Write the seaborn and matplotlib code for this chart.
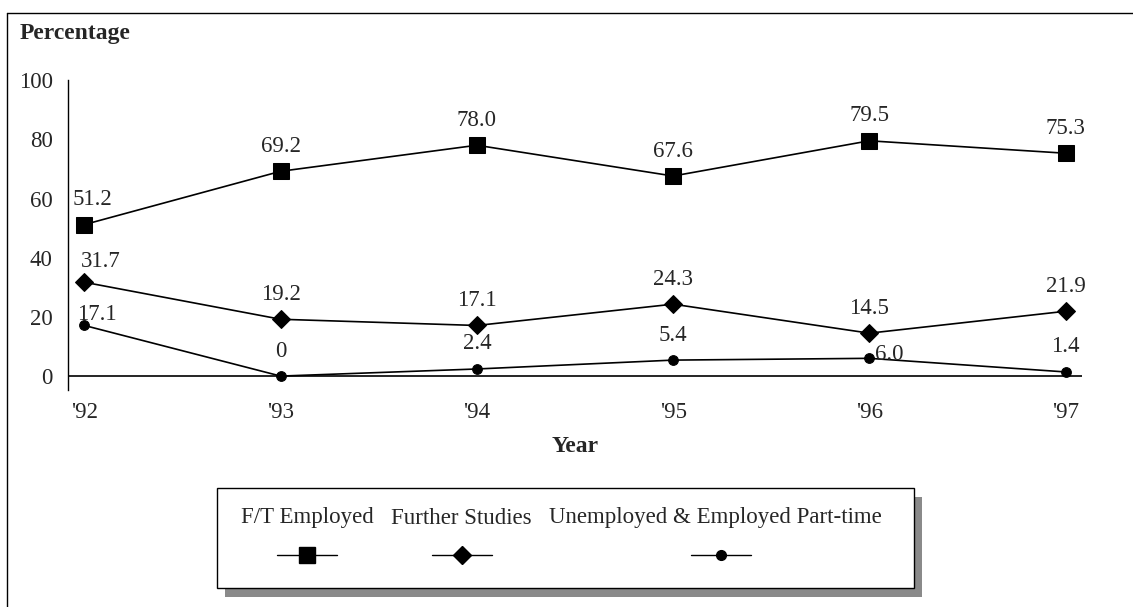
import matplotlib
matplotlib.use("Agg")
import matplotlib.pyplot as plt
import seaborn as sns
import pandas as pd
from matplotlib.lines import Line2D
from matplotlib.patches import Rectangle

years = ["'92", "'93", "'94", "'95", "'96", "'97"]
ft_employed = [51.2, 69.2, 78.0, 67.6, 79.5, 75.3]
further_studies = [31.7, 19.2, 17.1, 24.3, 14.5, 21.9]
unemployed_pt = [17.1, 0, 2.4, 5.4, 6.0, 1.4]
ft_labels = ["51.2", "69.2", "78.0", "67.6", "79.5", "75.3"]
fs_labels = ["31.7", "19.2", "17.1", "24.3", "14.5", "21.9"]
un_labels = ["17.1", "0", "2.4", "5.4", "6.0", "1.4"]
series_names = ["F/T Employed", "Further Studies", "Unemployed & Employed Part-time"]
y_ticks = [0, 20, 40, 60, 80, 100]

sns.set_theme(style="white")
plt.rcParams["font.family"] = ["Liberation Serif", "DejaVu Serif"]

FS = 16.5
fig = plt.figure(figsize=(11.33, 6.07), dpi=100)
ax = fig.add_axes([0.0600, 0.3575, 0.8950, 0.5105])

xs = list(range(len(years)))
series = [ft_employed, further_studies, unemployed_pt]
labels = [ft_labels, fs_labels, un_labels]
markers = ["s", "D", "o"]
msizes = [12, 9, 7]

for name, vals, mk, ms in zip(series_names, series, markers, msizes):
    df = pd.DataFrame({"x": xs, "y": vals})
    sns.lineplot(data=df, x="x", y="y", ax=ax, color="black", linewidth=1.2,
                 marker=mk, markersize=ms, markeredgecolor="black",
                 markerfacecolor="black", legend=False)

# annotation offsets (points) per series/point
default_off = (0, 18)
special = {
    (0, 0): (6, 18), (1, 0): (12, 15), (2, 0): (9, 8),
    (2, 4): (4, 3),
}
for si, (vals, labs) in enumerate(zip(series, labels)):
    for i, (v, t) in enumerate(zip(vals, labs)):
        off = special.get((si, i), default_off)
        ha = "left" if (si, i) == (2, 4) else "center"
        ax.annotate(t, (i, v), xytext=off, textcoords="offset points",
                    ha=ha, va="center", fontsize=FS)

ax.set_xlim(-0.084, 5.084)
ax.set_ylim(-4.7, 100)
ax.set_xticks(xs)
ax.set_xticklabels(years)
ax.set_yticks(y_ticks)
ax.set_yticklabels([str(v) for v in y_ticks])
ax.tick_params(axis="both", length=0, labelsize=FS)
ax.tick_params(axis="y", pad=11)
ax.tick_params(axis="x", pad=9)
ax.axhline(0, color="black", linewidth=1.2)
for s in ["top", "right", "bottom"]:
    ax.spines[s].set_visible(False)
ax.spines["left"].set_color("black")
ax.spines["left"].set_linewidth(1.0)
ax.set_xlabel("Year", fontsize=17, fontweight="bold", labelpad=9)
ax.set_ylabel("")
ax.set_facecolor("white")

fig.text(20 / 1133, 1 - 33 / 607, "Percentage", fontsize=17, fontweight="bold",
         ha="left", va="center")

# outer frame (left and top)
fig.add_artist(Line2D([7 / 1133, 7 / 1133], [0, 1 - 13 / 607], color="black", linewidth=1.0,
                      transform=fig.transFigure))
fig.add_artist(Line2D([7 / 1133, 1.0], [1 - 13 / 607, 1 - 13 / 607], color="black", linewidth=1.0,
                      transform=fig.transFigure))

# legend box with shadow
W, H = 1133, 607
lx0, lx1, ly0, ly1 = 217, 914, 488, 588
fig.add_artist(Rectangle(((lx0 + 8) / W, 1 - (ly1 + 9) / H), (lx1 - lx0) / W, (ly1 - ly0) / H,
                         transform=fig.transFigure, facecolor="#8a8a8a", edgecolor="none"))
fig.add_artist(Rectangle((lx0 / W, 1 - ly1 / H), (lx1 - lx0) / W, (ly1 - ly0) / H,
                         transform=fig.transFigure, facecolor="white", edgecolor="black",
                         linewidth=1.0))
text_x = [241, 391, 549]
mark_x = [307, 462, 721]
for name, tx, mxp, mk, ms in zip(series_names, text_x, mark_x, markers, msizes):
    fig.text(tx / W, 1 - 518 / H, name, fontsize=FS, ha="left", va="center")
    fig.add_artist(Line2D([(mxp - 30) / W, (mxp + 30) / W], [1 - 555 / H, 1 - 555 / H],
                          color="black", linewidth=1.0, transform=fig.transFigure))
    fig.add_artist(Line2D([mxp / W], [1 - 555 / H], marker=mk, markersize=ms, color="black",
                          linestyle="none", transform=fig.transFigure))

fig.savefig("out.png", dpi=100, facecolor="white")
